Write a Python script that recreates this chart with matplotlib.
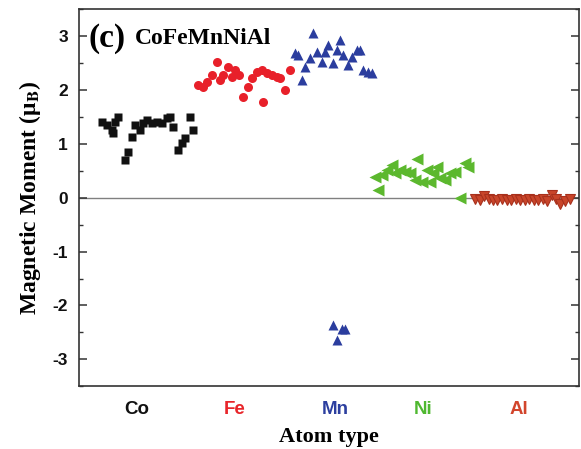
import matplotlib
matplotlib.use("Agg")
import matplotlib.pyplot as plt
from matplotlib.ticker import MultipleLocator

plt.rcParams["axes.unicode_minus"] = False
plt.rcParams["mathtext.fontset"] = "stix"

# atom index (x) and magnetic moment (y) for each element
co_x = [4.9, 6.0, 7.0, 7.2, 7.7, 8.3, 9.8, 10.4, 11.3, 11.9, 13.0, 13.6, 14.5, 15.5,
        16.6, 17.7, 18.7, 19.4, 20.0, 21.1, 21.9, 22.6, 23.6, 24.3]
co_y = [1.41, 1.35, 1.26, 1.20, 1.40, 1.50, 0.70, 0.85, 1.13, 1.35, 1.26, 1.39, 1.44, 1.39,
        1.41, 1.39, 1.48, 1.50, 1.31, 0.89, 1.02, 1.11, 1.50, 1.26]

fe_x = [25.3, 26.4, 27.2, 28.3, 29.4, 30.0, 30.6, 31.7, 32.6, 33.2, 34.0, 34.9, 35.9,
        36.8, 37.9, 38.9, 39.1, 40.0, 41.1, 42.1, 42.8, 43.8, 44.9]
fe_y = [2.09, 2.06, 2.15, 2.28, 2.52, 2.19, 2.28, 2.43, 2.24, 2.37, 2.28, 1.87, 2.06,
        2.22, 2.33, 2.37, 1.78, 2.31, 2.28, 2.24, 2.22, 2.00, 2.37]

mn_x = [46.0, 46.6, 47.4, 48.1, 49.1, 49.8, 50.6, 51.7, 52.3, 52.9, 54.0, 54.9, 55.5,
        56.2, 57.2, 58.1, 59.1, 59.8, 60.4, 61.5, 62.3, 54.0, 54.9, 55.9, 56.6]
mn_y = [2.69, 2.65, 2.19, 2.43, 2.59, 3.06, 2.70, 2.52, 2.70, 2.83, 2.50, 2.74, 2.93,
        2.65, 2.46, 2.61, 2.74, 2.74, 2.37, 2.33, 2.31, -2.37, -2.65, -2.44, -2.44]

ni_x = [63.0, 63.6, 64.5, 65.5, 66.6, 67.2, 68.3, 69.4, 70.4, 71.5, 71.9, 73.0, 74.0,
        74.7, 75.3, 76.2, 76.8, 77.9, 78.9, 80.0, 81.1, 82.1, 82.8]
ni_y = [0.39, 0.15, 0.43, 0.52, 0.61, 0.46, 0.52, 0.48, 0.46, 0.33, 0.72, 0.30, 0.52,
        0.30, 0.46, 0.57, 0.37, 0.33, 0.46, 0.48, 0.00, 0.65, 0.57]

al_x = [84.3, 85.3, 86.2, 87.2, 88.0, 89.0, 90.0, 91.0, 91.9, 92.9, 93.8, 94.8, 95.7,
        96.7, 97.6, 98.6, 99.6, 100.5, 101.5, 102.4, 103.4, 104.4]
al_y = [-0.02, -0.05, 0.04, -0.03, -0.05, -0.04, -0.03, -0.05, -0.04, -0.03, -0.05, -0.04,
        -0.03, -0.05, -0.04, -0.02, -0.06, 0.05, -0.03, -0.12, -0.06, -0.03]

labels = ["Co", "Fe", "Mn", "Ni", "Al"]
label_pos = [12.3, 33.2, 54.5, 73.2, 93.6]
label_colors = ["#111111", "#e8252a", "#2c3f9f", "#4fb830", "#d2452c"]

fig = plt.figure(figsize=(5.81, 4.49), dpi=100)
ax = fig.add_axes([0.136, 0.14, 0.861, 0.839])

ax.axhline(0, color="#808080", lw=1.0, zorder=1)

ax.plot(co_x, co_y, "s", color="#111111", ms=5.5, mec="none", zorder=3)
ax.plot(fe_x, fe_y, "o", color="#e8202a", ms=6.5, mec="none", zorder=3)
ax.plot(mn_x, mn_y, "^", color="#2b3d9e", ms=7.5, mec="none", zorder=3)
ax.plot(ni_x, ni_y, "<", color="#5cb82e", ms=8, mec="none", zorder=3)
ax.plot(al_x, al_y, "v", color="#c8452a", ms=7.5, mec="#a8301c", mew=0.8, zorder=3)

ax.set_xlim(0, 106.4)
ax.set_ylim(-3.5, 3.5)

ax.yaxis.set_major_locator(MultipleLocator(1))
ax.yaxis.set_minor_locator(MultipleLocator(0.5))
ax.tick_params(axis="y", which="both", direction="in", right=True, colors="#333333",
               labelcolor="#111111")
ax.tick_params(axis="y", which="major", length=6, width=1.1, pad=8, labelsize=12.5)
ax.tick_params(axis="y", which="minor", length=3, width=1.0)
for t in ax.get_yticklabels():
    t.set_fontweight("bold")
    t.set_family("Liberation Sans")

ax.set_xticks(label_pos)
ax.set_xticklabels(labels)
ax.tick_params(axis="x", length=0, pad=11, labelsize=13.5)
for t, c in zip(ax.get_xticklabels(), label_colors):
    t.set_color(c)
    t.set_fontweight("bold")
    t.set_family("Liberation Sans")

for s in ax.spines.values():
    s.set_linewidth(1.2)
    s.set_color("#333333")

ax.set_ylabel("Magnetic Moment (μ$_\\mathbf{B}$)", family="Liberation Serif",
              fontweight="bold", fontsize=17, labelpad=7)
ax.set_xlabel("Atom type", family="Liberation Serif", fontweight="bold",
              fontsize=16, labelpad=6)

ax.text(0.018, 0.965, "(c)", transform=ax.transAxes, family="Liberation Serif",
        fontweight="bold", fontsize=24, va="top", ha="left")
ax.text(0.112, 0.952, "CoFeMnNiAl", transform=ax.transAxes, family="Liberation Serif",
        fontweight="bold", fontsize=17, va="top", ha="left")

fig.savefig("out.png", dpi=100)
